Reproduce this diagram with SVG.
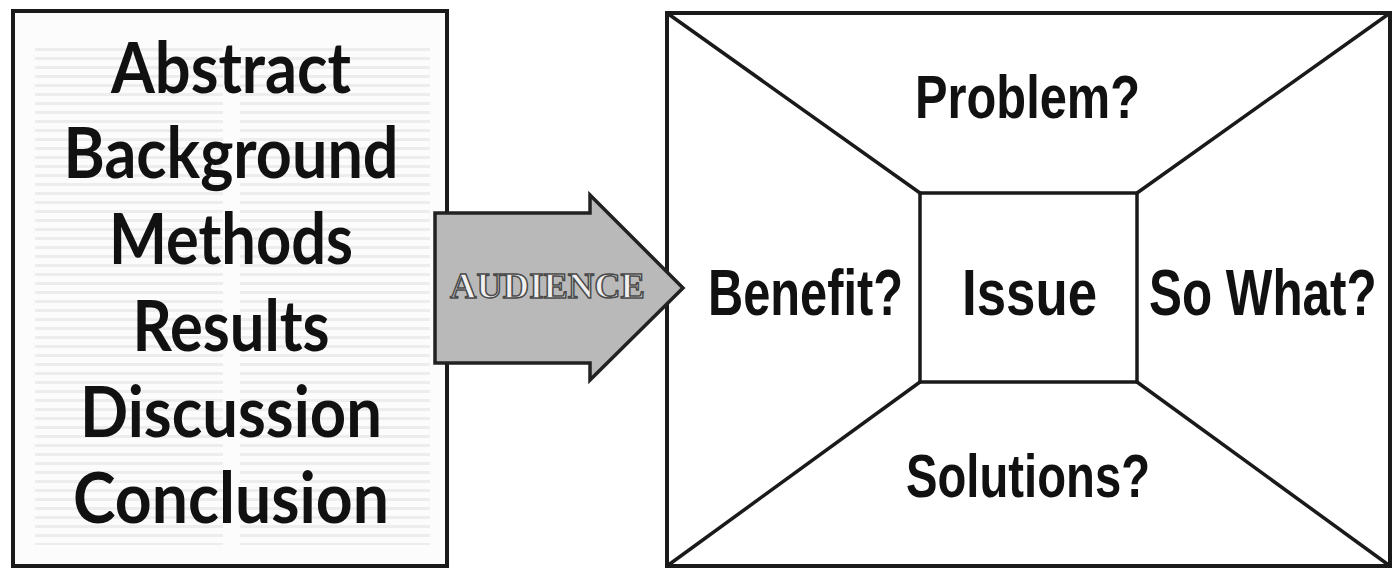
<svg xmlns="http://www.w3.org/2000/svg" width="1393" height="570" viewBox="0 0 1393 570">
  <style>
    .frame { fill: none; stroke: #1a1a1a; stroke-width: 4; }
    .edge { fill: none; stroke: #1a1a1a; stroke-width: 3.5; stroke-linecap: round; }
    .sect { font-family: Lato, "Liberation Sans", sans-serif; font-weight: 700; font-size: 70px; fill: #111; text-anchor: middle; }
    .q { font-family: "Liberation Sans", Arial, sans-serif; font-weight: 700; font-size: 62px; fill: #111; }
    .q.mid { font-size: 65px; }
    .aud { font-family: "Liberation Serif", serif; font-weight: 700; font-size: 36px; fill: #f0f0f0; stroke: #4a4a4a; stroke-width: 1.5; }
  </style>
  <defs>
    <!-- faint lines of body copy on the paper page -->
    <pattern id="copy" x="0" y="0" width="400" height="9" patternUnits="userSpaceOnUse">
      <rect x="0" y="3" width="400" height="3" fill="#ededed"/>
    </pattern>
  </defs>
  <rect width="1393" height="570" fill="#ffffff"/>

  <!-- paper page with section headings -->
  <g id="paper">
    <rect x="13" y="11" width="434" height="555" fill="#fcfcfc"/>
    <rect x="35" y="45" width="188" height="500" fill="url(#copy)"/>
    <rect x="240" y="45" width="190" height="500" fill="url(#copy)"/>
    <rect x="13" y="11" width="434" height="555" class="frame"/>
    <text class="sect" x="231" y="93" textLength="240" lengthAdjust="spacingAndGlyphs">Abstract</text>
    <text class="sect" x="231" y="178" textLength="335" lengthAdjust="spacingAndGlyphs">Background</text>
    <text class="sect" x="231" y="264" textLength="244" lengthAdjust="spacingAndGlyphs">Methods</text>
    <text class="sect" x="231" y="351" textLength="197" lengthAdjust="spacingAndGlyphs">Results</text>
    <text class="sect" x="231" y="437" textLength="302" lengthAdjust="spacingAndGlyphs">Discussion</text>
    <text class="sect" x="231" y="523" textLength="316" lengthAdjust="spacingAndGlyphs">Conclusion</text>
  </g>

  <!-- framing box: central issue with four surrounding questions -->
  <g id="frame-box">
    <rect x="667" y="13" width="723" height="553" class="frame"/>
    <rect x="920" y="193" width="217" height="189" class="edge"/>
  </g>
  <g id="connectors">
    <line x1="667" y1="13" x2="920" y2="193" class="edge"/>
    <line x1="1390" y1="13" x2="1137" y2="193" class="edge"/>
    <line x1="667" y1="566" x2="920" y2="382" class="edge"/>
    <line x1="1390" y1="566" x2="1137" y2="382" class="edge"/>
  </g>
  <g id="problem"><text class="q" x="915" y="118" textLength="225" lengthAdjust="spacingAndGlyphs">Problem?</text></g>
  <g id="benefit"><text class="q mid" x="708" y="315" textLength="195" lengthAdjust="spacingAndGlyphs">Benefit?</text></g>
  <g id="issue"><text class="q mid" x="962" y="315" textLength="135" lengthAdjust="spacingAndGlyphs">Issue</text></g>
  <g id="so-what" transform="translate(1149 315) scale(0.76 1)"><text class="q mid" x="0" y="0">So What?</text></g>
  <g id="solutions"><text class="q" x="906" y="497" textLength="244" lengthAdjust="spacingAndGlyphs">Solutions?</text></g>

  <!-- audience arrow -->
  <g id="audience">
    <path d="M435 213 H590 V195 L683 288 L590 380 V363 H435 Z" fill="#b9b9b9" stroke="#222" stroke-width="3.5" stroke-linejoin="miter"/>
    <text class="aud" x="450" y="298" textLength="195" lengthAdjust="spacingAndGlyphs">AUDIENCE</text>
  </g>
</svg>
